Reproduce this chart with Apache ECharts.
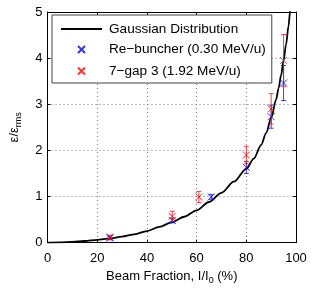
<!DOCTYPE html>
<html>
<head>
<meta charset="utf-8">
<script src="https://cdn.jsdelivr.net/npm/echarts@6/dist/echarts.min.js"></script>
<style>
html,body{margin:0;padding:0;background:#fff;}
#chart{width:327px;height:290px;}
</style>
</head>
<body>
<div id="chart"></div>
<script>
// Gaussian distribution curve
const curveX = [0, 5, 10, 15, 20, 25, 30, 35, 40, 45, 50, 55, 60, 65, 70, 75, 80, 83, 86, 88, 90, 92, 93, 94, 95, 96, 97, 97.6, 98.2];
const curveY = [0, 0.005, 0.015, 0.035, 0.06, 0.09, 0.13, 0.18, 0.25, 0.34, 0.44, 0.56, 0.7, 0.88, 1.08, 1.32, 1.6, 1.82, 2.12, 2.38, 2.7, 3.1, 3.35, 3.63, 3.95, 4.3, 4.7, 5.0, 5.4];

// Re-buncher (0.30 MeV/u)
const blueX = [25.1, 50.2, 65.9, 80, 90, 95];
const blueY = [0.10, 0.48, 0.99, 1.63, 2.73, 3.46];
const blueErr = [0.04, 0.05, 0.05, 0.13, 0.25, 0.38];

// 7-gap 3 (1.92 MeV/u)
const redX = [25.1, 50.2, 60.9, 80, 90, 95];
const redY = [0.12, 0.57, 0.99, 1.90, 2.90, 3.95];
const redErr = [0.04, 0.11, 0.12, 0.19, 0.33, 0.56];

const xTicks = [0, 20, 40, 60, 80, 100];
const yTicks = [0, 1, 2, 3, 4, 5];

const names = ['Gaussian Distribution', 'Re\u2212buncher (0.30 MeV/u)', '7\u2212gap 3 (1.92 MeV/u)'];
const BLUE = '#0000ff', RED = '#ff0000';
const FONT = 'Liberation Sans';

const X_SYM = 'path://M3.5,3.5L10.5,10.5M10.5,3.5L3.5,10.5';
const X_ICON = 'path://M0,0M14,14M3.5,3.5L10.5,10.5M10.5,3.5L3.5,10.5';
const LINE_ICON = 'path://M0,0L41,0L41,2L0,2Z';

function errRender(color) {
  return function (params, api) {
    const x = api.value(0), lo = api.value(1), hi = api.value(2);
    const a = api.coord([x, lo]), b = api.coord([x, hi]);
    const w = 2.5;
    const st = {stroke: color, lineWidth: 1, opacity: 0.75};
    return {type: 'group', children: [
      {type: 'line', shape: {x1: a[0], y1: a[1], x2: b[0], y2: b[1]}, style: st},
      {type: 'line', shape: {x1: a[0] - w, y1: a[1], x2: a[0] + w, y2: a[1]}, style: st},
      {type: 'line', shape: {x1: b[0] - w, y1: b[1], x2: b[0] + w, y2: b[1]}, style: st}
    ]};
  };
}

const chart = echarts.init(document.getElementById('chart'), null, {renderer: 'canvas'});
const axisCommon = {
  type: 'value',
  axisLine: {show: true, onZero: false, lineStyle: {color: '#000', width: 1}},
  axisTick: {show: true, inside: true, length: 3, lineStyle: {color: '#000'}},
};
const option = {
  animation: false,
  backgroundColor: '#fff',
  textStyle: {fontFamily: FONT},
  grid: {left: 42, right: 31, top: 12, bottom: 45, containLabel: false},
  xAxis: [
    Object.assign({}, axisCommon, {
      min: xTicks[0], max: xTicks[xTicks.length - 1], interval: 20, position: 'bottom',
      axisLabel: {color: '#000', fontSize: 13, fontFamily: FONT, margin: 9},
      splitLine: {show: true, lineStyle: {color: '#777', type: [1, 3], width: 1}},
      name: '{a|Beam Fraction, I/I}{s|0}{a| (%)}',
      nameLocation: 'middle', nameGap: 19,
      nameTextStyle: {rich: {
        a: {fontSize: 13, fontFamily: FONT, color: '#000'},
        s: {fontSize: 9, fontFamily: FONT, color: '#000', padding: [9, 0, 0, 0]}
      }}
    }),
    Object.assign({}, axisCommon, {
      min: xTicks[0], max: xTicks[xTicks.length - 1], interval: 20, position: 'top',
      axisLabel: {show: false}, splitLine: {show: false}
    })
  ],
  yAxis: [
    Object.assign({}, axisCommon, {
      min: yTicks[0], max: yTicks[yTicks.length - 1], interval: 1, position: 'left',
      axisLabel: {color: '#000', fontSize: 13, fontFamily: FONT, margin: 5},
      splitLine: {show: true, lineStyle: {color: '#777', type: [1, 3], width: 1}},
      name: '{a|\u03b5/\u03b5}{s|rms}',
      nameLocation: 'middle', nameGap: 24,
      nameTextStyle: {rich: {
        a: {fontSize: 13, fontFamily: FONT, color: '#000'},
        s: {fontSize: 9, fontFamily: FONT, color: '#000', padding: [9, 0, 0, 0]}
      }}
    }),
    Object.assign({}, axisCommon, {
      min: yTicks[0], max: yTicks[yTicks.length - 1], interval: 1, position: 'right',
      axisLabel: {show: false}, splitLine: {show: false}
    })
  ],
  legend: {
    left: 52, top: 15, orient: 'vertical',
    itemWidth: 41, itemHeight: 14, itemGap: 5.5,
    padding: [7, 6, 4, 9],
    backgroundColor: '#fff', borderColor: '#444', borderWidth: 1,
    textStyle: {fontSize: 13.6, fontFamily: FONT, color: '#000', padding: [0, 0, 0, 2]},
    selectedMode: false,
    data: [
      {name: names[0], icon: LINE_ICON},
      {name: names[1], icon: X_ICON},
      {name: names[2], icon: X_ICON}
    ]
  },
  series: [
    {
      name: names[0], type: 'line', showSymbol: false, symbol: 'none',
      smooth: 0.3, smoothMonotone: 'x', clip: true,
      lineStyle: {color: '#000', width: 1.8}, itemStyle: {color: '#000'},
      data: curveX.map((x, i) => [x, curveY[i]]), z: 2
    },
    {
      type: 'custom', renderItem: errRender(BLUE), clip: true, z: 3,
      encode: {x: 0, y: [1, 2]},
      data: blueX.map((x, i) => [x, blueY[i] - blueErr[i], blueY[i] + blueErr[i]])
    },
    {
      name: names[1], type: 'scatter', symbol: X_SYM, symbolSize: 7, z: 4,
      itemStyle: {color: BLUE, borderColor: BLUE, borderWidth: 1},
      data: blueX.map((x, i) => [x, blueY[i]])
    },
    {
      type: 'custom', renderItem: errRender(RED), clip: true, z: 5,
      encode: {x: 0, y: [1, 2]},
      data: redX.map((x, i) => [x, redY[i] - redErr[i], redY[i] + redErr[i]])
    },
    {
      name: names[2], type: 'scatter', symbol: X_SYM, symbolSize: 7, z: 6,
      itemStyle: {color: RED, borderColor: RED, borderWidth: 1},
      data: redX.map((x, i) => [x, redY[i]])
    }
  ]
};
chart.setOption(option);
</script>
</body>
</html>
